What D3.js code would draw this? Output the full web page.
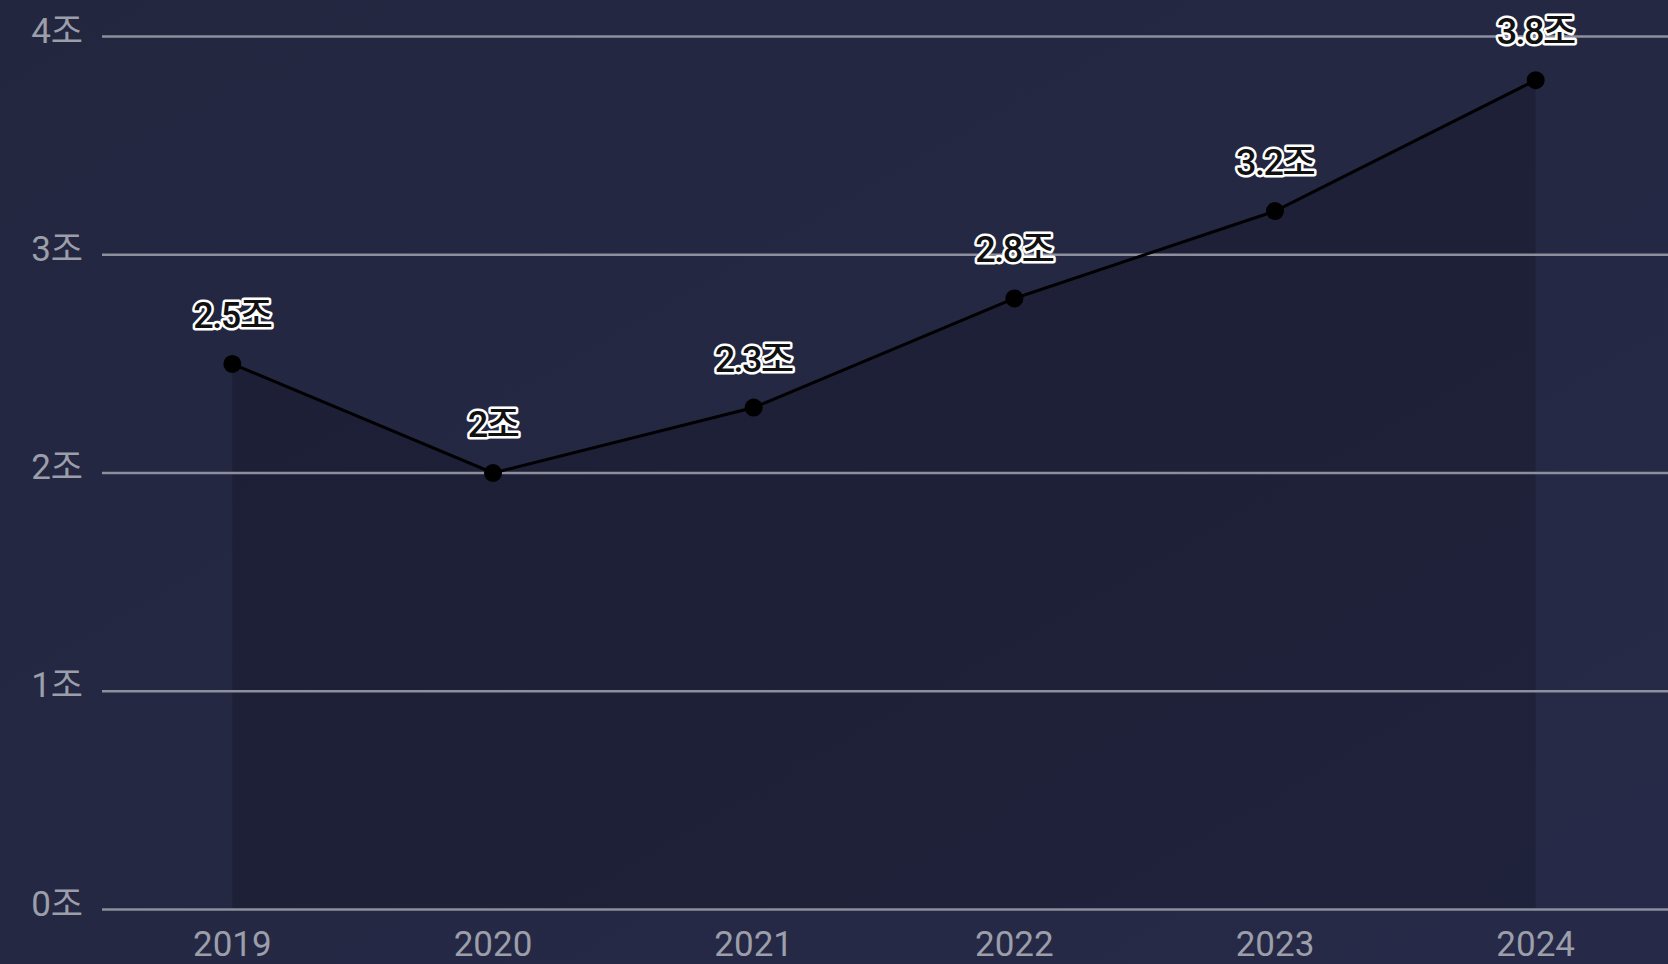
<!DOCTYPE html>
<html><head><meta charset="utf-8">
<script src="https://cdn.jsdelivr.net/npm/d3@7"></script>
<style>
html,body{margin:0;padding:0;background:#232741;overflow:hidden}
svg{display:block}
</style></head>
<body>
<script>
const years = ["2019","2020","2021","2022","2023","2024"];
const values = [2.5, 2.0, 2.3, 2.8, 3.2, 3.8];
const valueLabels = ["2.5조","2조","2.3조","2.8조","3.2조","3.8조"];
const yTicks = [0,1,2,3,4];

const W = 1668, H = 964;
const svg = d3.select("body").append("svg").attr("width", W).attr("height", H);

const defs = svg.append("defs");
const bg = defs.append("linearGradient").attr("id","bg").attr("x1",0).attr("x2",1).attr("y1",0).attr("y2",1);
bg.append("stop").attr("offset","0%").attr("stop-color","#22263f");
bg.append("stop").attr("offset","50%").attr("stop-color","#242843");
bg.append("stop").attr("offset","100%").attr("stop-color","#262a48");
svg.append("rect").attr("width",W).attr("height",H).attr("fill","url(#bg)");

const x = d3.scalePoint().domain(years).range([102, 1666]).padding(0.5);
const y = d3.scaleLinear().domain([0,4]).range([909.5, 36.5]);

const font = "Roboto, 'Noto Sans CJK KR', sans-serif";

const area = d3.area().x((d,i)=>x(years[i])).y0(y(0)).y1(d=>y(d));
svg.append("path").datum(values).attr("d", area).attr("fill","rgba(0,0,0,0.18)");

svg.append("g").selectAll("line").data(yTicks).join("line")
  .attr("x1", 102).attr("x2", W).attr("y1", d=>y(d)).attr("y2", d=>y(d))
  .attr("stroke","#8d8f9c").attr("stroke-width",2.5);

svg.append("g").selectAll("text").data(yTicks).join("text")
  .attr("x", 83).attr("y", d=>y(d)+6)
  .attr("text-anchor","end").attr("font-family",font).attr("font-size",35)
  .attr("fill","#9c9ea9").text(d=>d+"조");

svg.append("g").selectAll("text").data(years).join("text")
  .attr("x", d=>x(d)).attr("y", 956)
  .attr("text-anchor","middle").attr("font-family",font).attr("font-size",35)
  .attr("fill","#9c9ea9").text(d=>d);

const line = d3.line().x((d,i)=>x(years[i])).y(d=>y(d));
svg.append("path").datum(values).attr("d", line).attr("fill","none")
  .attr("stroke","#000").attr("stroke-width",3);

svg.append("g").selectAll("circle").data(values).join("circle")
  .attr("cx",(d,i)=>x(years[i])).attr("cy",d=>y(d)).attr("r",9).attr("fill","#000");

svg.append("g").selectAll("text").data(values).join("text")
  .attr("x",(d,i)=>x(years[i])).attr("y",d=>y(d)-36)
  .attr("text-anchor","middle").attr("font-family",font).attr("font-size",36)
  .attr("font-weight",500).attr("letter-spacing",-1.5)
  .attr("fill","#111").attr("stroke","#fff").attr("stroke-width",5)
  .attr("stroke-linejoin","round").attr("paint-order","stroke")
  .text((d,i)=>valueLabels[i]);
</script>
</body></html>
